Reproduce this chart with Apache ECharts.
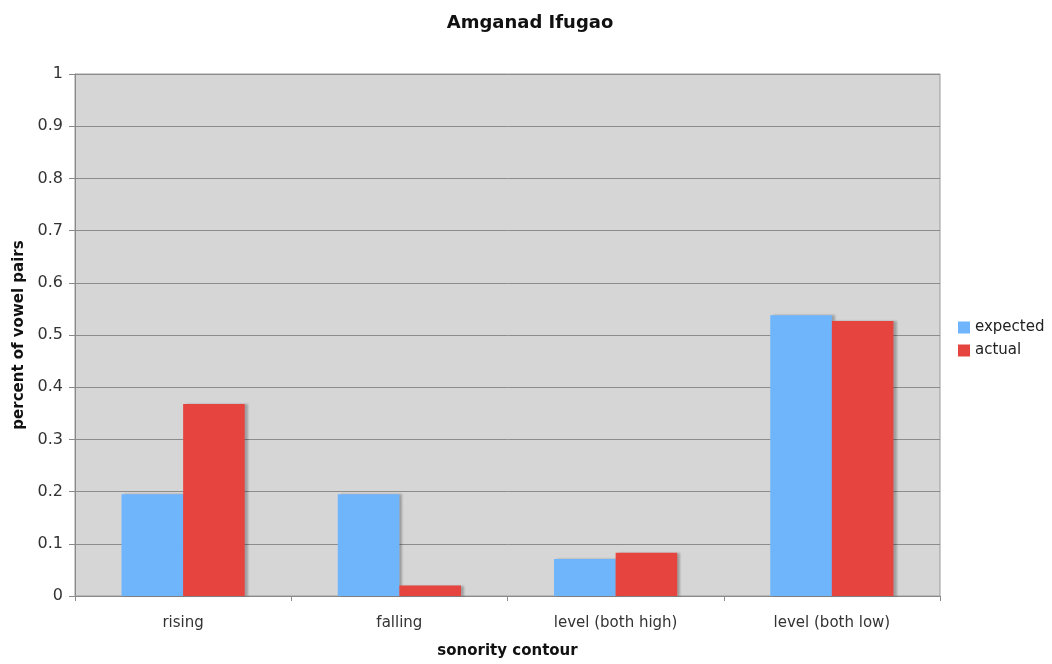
<!DOCTYPE html>
<html>
<head>
<meta charset="utf-8">
<script src="https://cdn.jsdelivr.net/npm/echarts@6/dist/echarts.min.js"></script>
<style>
  html, body { margin: 0; padding: 0; background: #ffffff; }
  #chart { width: 1052px; height: 664px; }
</style>
</head>
<body>
<div id="chart"></div>
<script>
// Sonority contour categories and vowel-pair proportions
const categories = ['rising', 'falling', 'level (both high)', 'level (both low)'];
const expected = [0.195, 0.195, 0.071, 0.538];
const actual = [0.368, 0.020, 0.083, 0.527];
const yTicks = [0, 0.1, 0.2, 0.3, 0.4, 0.5, 0.6, 0.7, 0.8, 0.9, 1];

const font = '"DejaVu Sans", Verdana, sans-serif';
const barShadow = {
  shadowColor: 'rgba(0,0,0,0.25)',
  shadowBlur: 2,
  shadowOffsetX: 3,
  shadowOffsetY: 0
};

const chart = echarts.init(document.getElementById('chart'));
chart.setOption({
  animation: false,
  backgroundColor: '#ffffff',
  title: {
    text: 'Amganad Ifugao',
    left: 525,
    textAlign: 'center',
    top: 9,
    textStyle: { fontFamily: font, fontSize: 18, fontWeight: 'bold', color: '#111' }
  },
  legend: {
    orient: 'vertical',
    left: 953,
    top: 315,
    itemWidth: 12,
    itemHeight: 12,
    itemGap: 8,
    icon: 'rect',
    textStyle: { fontFamily: font, fontSize: 15, color: '#222', padding: [0, 0, 0, 0] },
    data: ['expected', 'actual']
  },
  grid: {
    left: 75,
    right: 112,
    top: 74,
    bottom: 62,
    show: true,
    backgroundColor: '#d6d6d6',
    borderColor: '#9a9a9a',
    borderWidth: 1
  },
  xAxis: {
    type: 'category',
    data: categories,
    name: 'sonority contour',
    nameLocation: 'middle',
    nameGap: 48,
    nameTextStyle: { fontFamily: font, fontSize: 15, fontWeight: 'bold', color: '#111' },
    axisLine: { lineStyle: { color: '#8a8a8a', width: 1 } },
    axisTick: { show: true, length: 5, lineStyle: { color: '#8a8a8a' } },
    axisLabel: { fontFamily: font, fontSize: 15, color: '#333', margin: 20 }
  },
  yAxis: {
    type: 'value',
    min: 0,
    max: 1,
    interval: 0.1,
    name: 'percent of vowel pairs',
    nameLocation: 'middle',
    nameGap: 43,
    nameRotate: 90,
    nameTextStyle: { fontFamily: font, fontSize: 15, fontWeight: 'bold', color: '#111' },
    axisLine: { show: true, lineStyle: { color: '#8a8a8a' } },
    axisTick: { show: true, length: 6, lineStyle: { color: '#8a8a8a' } },
    axisLabel: {
      fontFamily: font, fontSize: 16, color: '#333', margin: 12,
      formatter: v => {
        const t = yTicks.find(k => Math.abs(k - v) < 1e-9);
        return t === undefined ? '' : String(t);
      }
    },
    splitLine: { show: true, lineStyle: { color: '#8c8c8c', width: 1 } }
  },
  series: [
    {
      name: 'expected',
      type: 'bar',
      data: expected,
      barWidth: '28.5%',
      barGap: '0%',
      itemStyle: Object.assign({ color: '#6fb5fc' }, barShadow)
    },
    {
      name: 'actual',
      type: 'bar',
      data: actual,
      barWidth: '28.5%',
      itemStyle: Object.assign({ color: '#e5443f' }, barShadow)
    }
  ]
});
</script>
</body>
</html>
